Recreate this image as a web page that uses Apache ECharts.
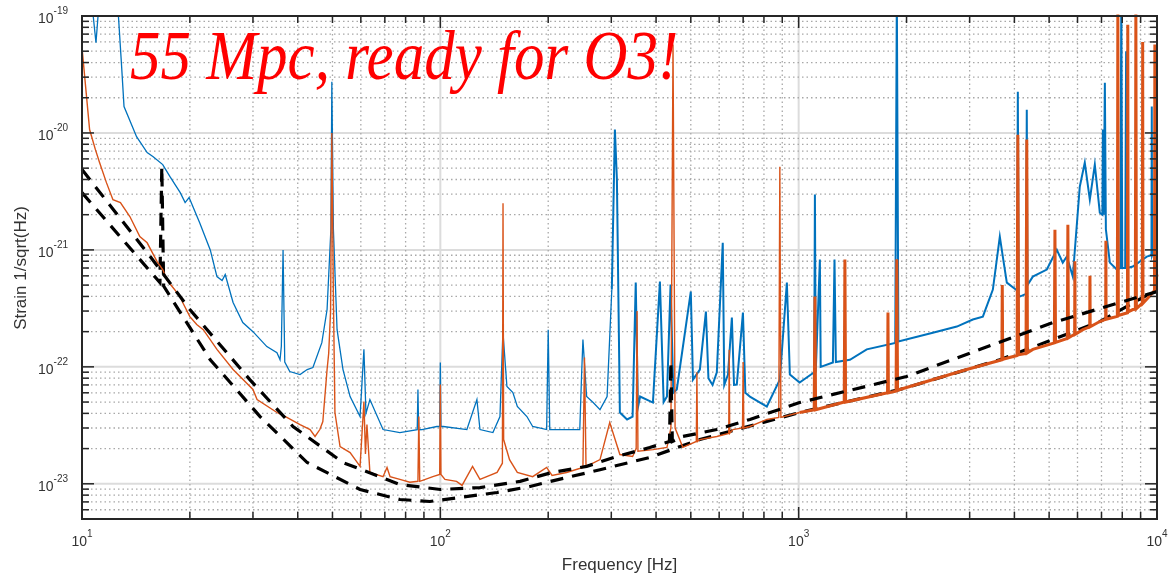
<!DOCTYPE html>
<html>
<head>
<meta charset="utf-8">
<script src="https://cdn.jsdelivr.net/npm/echarts@6/dist/echarts.min.js"></script>
<style>
  html, body { margin: 0; padding: 0; background: #ffffff; }
  #chart { width: 1173px; height: 575px; }
</style>
</head>
<body>
<div id="chart"></div>
<script>
// Axis ranges and decade ticks
const xDecades = [10, 100, 1000, 10000];
const yDecades = [1e-23, 1e-22, 1e-21, 1e-20, 1e-19];
const xMin = 10, xMax = 10000;
const yMin = 5e-24, yMax = 1e-19;

// Earlier strain spectrum (blue)
const blueFreq = [
  10, 10.6, 10.94, 11.2, 12.4, 12.9, 13.1, 14.2, 15.2, 15.8, 16.8, 17.6, 18.8, 19.4, 19.9,
  21.3, 22.8, 23.8, 24.6, 25.1, 26.4, 28.1, 30.0, 32.8, 35.0, 35.7, 36.0, 36.4, 36.8, 38.0,
  40.6, 42.5, 44.1, 46.7, 48.3, 49.5, 49.8, 50.3, 51.5, 53.5, 56.0, 59.7, 61.2, 62.0, 63.6,
  69.2, 77.1, 86.2, 86.6, 87.0, 88.9, 97.8, 99.6, 100, 100.4, 101.9, 118.6, 126.5, 129, 140.2,
  146.7, 149.5, 153.4, 159.4, 164, 174.4, 181, 198, 200, 202, 245, 248, 250, 256, 267,
  279, 292, 301, 307, 311, 317, 332, 344, 351, 356, 361, 392, 410, 420, 429,
  439, 447, 457, 500, 507, 530, 551, 560, 575, 591, 614, 620, 635, 651, 660,
  672, 699, 710, 731, 815, 886, 927, 945, 1006, 1105, 1110, 1116, 1146, 1152, 1246,
  1259, 1270, 1390, 1549, 1860, 1879, 1898, 1916, 2368, 2763, 3062, 3266, 3483, 3642, 3713,
  3810, 4070, 4089, 4110, 4142, 4310, 4331, 4350, 4503, 4926, 5253, 5458, 5602, 5821, 6088,
  6287, 6494, 6706, 6925, 7040, 7062, 7100, 7153, 7200, 7386, 7725, 7900, 7950, 8000, 8150,
  8200, 8250, 8561, 9365, 9650, 9670, 9690, 9745, 10000
];
const blueAsd = [
  3e-19, 1.5e-19, 5.91e-20, 1.5e-19, 2.5e-19, 3.69e-20, 1.68e-20, 9.3e-21, 6.79e-21, 6.27e-21, 5.36e-21, 4.23e-21, 3.09e-21, 2.54e-21, 2.8e-21,
  1.71e-21, 1.0e-21, 5.91e-22, 5.47e-22, 6.15e-22, 3.55e-22, 2.39e-22, 2.0e-22, 1.49e-22, 1.32e-22, 1.15e-22, 1.5e-22, 1.0e-21, 1.1e-22, 9.12e-23,
  8.6e-23, 9.48e-23, 9.86e-23, 1.61e-22, 3.09e-22, 1.5e-21, 2.74e-20, 1.5e-21, 2.08e-22, 9.48e-23, 5.57e-23, 3.76e-23, 1.41e-22, 4.0e-23, 5.25e-23,
  2.91e-23, 2.74e-23, 2.9e-23, 6.4e-23, 2.9e-23, 2.91e-23, 3.09e-23, 3.1e-23, 1.09e-22, 3.1e-23, 3.09e-23, 2.91e-23, 5.25e-23, 2.91e-23, 2.74e-23,
  3.76e-23, 2.0e-22, 6.79e-23, 6.03e-23, 4.58e-23, 3.76e-23, 3.09e-23, 2.91e-23, 2.08e-22, 2.91e-23, 2.91e-23, 8.93e-23, 1.71e-22, 5.57e-23, 4.95e-23,
  4.31e-23, 5.57e-23, 4.58e-22, 1.07e-20, 3.99e-21, 4.07e-23, 3.55e-23, 3.76e-23, 5.25e-22, 4.5e-23, 5.57e-23, 4.95e-23, 5.36e-22, 5.0e-23, 5.57e-23,
  5.05e-22, 6.0e-23, 6.4e-23, 4.4e-22, 7.78e-23, 9.48e-23, 2.97e-22, 8.0e-23, 7.0e-23, 9.0e-23, 1.15e-21, 7.0e-23, 8.6e-23, 2.64e-22, 7.0e-23,
  7.06e-23, 2.91e-22, 6.0e-23, 5.57e-23, 4.58e-23, 7.78e-23, 5.25e-22, 8.6e-23, 7.34e-23, 9.0e-23, 2.97e-21, 9.0e-23, 8.26e-22, 1.0e-22, 1.09e-22,
  8.26e-22, 1.1e-22, 1.15e-22, 1.41e-22, 1.6e-22, 1.5e-19, 1.65e-22, 1.71e-22, 1.96e-22, 2.21e-22, 2.54e-22, 2.69e-22, 4.58e-22, 1.3e-21, 8.77e-22,
  5.25e-22, 4.5e-22, 2.25e-20, 4.2e-22, 3.99e-22, 4.2e-22, 1.58e-20, 5.0e-22, 5.91e-22, 6.79e-22, 1.0e-21, 7.78e-22, 8.77e-22, 5.91e-22, 3.47e-21,
  5.57e-21, 2.69e-21, 5.36e-21, 2.08e-21, 2.0e-21, 1.07e-20, 2.0e-21, 2.69e-20, 1.5e-21, 7.78e-22, 6.79e-22, 7.0e-22, 1.5e-19, 7.0e-22, 7.0e-22,
  5.0e-20, 7.0e-22, 7.2e-22, 8.77e-22, 9.0e-22, 1.68e-20, 9.0e-22, 9.48e-22, 1.0e-21
];

// Current strain spectrum (orange)
const orangeFreq = [
  10, 10.5, 10.9, 11.2, 11.7, 12.2, 12.8, 13.6, 14.5, 15.2, 16.2, 16.8, 17.3, 18.8, 19.1,
  20.0, 20.9, 21.8, 23.8, 26.4, 30.0, 30.8, 35.0, 37.3, 40.6, 43.3, 44.7, 46.1, 47.0, 48.3,
  48.8, 49.4, 49.8, 50.3, 50.8, 52.5, 56.0, 59.7, 61.2, 61.8, 62.4, 63.6, 69.2, 71.0, 72.4,
  77.1, 82.2, 86.6, 87.1, 87.6, 90.8, 95.3, 99.6, 100, 100.4, 103, 111, 115, 123, 129,
  144, 149, 149.6, 150.2, 156, 164, 181, 198, 205, 225, 250, 252.5, 255, 279, 297,
  317, 344, 352, 354, 356, 392, 429, 440, 446, 452, 475, 518, 520, 522, 530,
  591, 638, 640, 642, 655, 697, 700, 703, 731, 815, 880, 886, 892, 903, 1006,
  1105, 1110, 1115, 1340, 1346, 1352, 1770, 1775, 1780, 1870, 1879, 1888, 1916, 2944, 3690,
  3700, 3710, 4070, 4089, 4110, 4310, 4331, 4350, 4503, 5170, 5190, 5210, 5620, 5640, 5660,
  5890, 5900, 5910, 6209, 6490, 6500, 6510, 6925, 7190, 7200, 7210, 7750, 7776, 7800, 8270,
  8288, 8310, 8561, 8700, 8730, 8760, 9100, 9120, 9140, 9745, 9840, 9863, 9890, 10000
];
const orangeAsd = [
  5.36e-20, 1.07e-20, 7.2e-21, 5.57e-21, 3.76e-21, 2.69e-21, 2.54e-21, 1.93e-21, 1.3e-21, 1.15e-21, 7.94e-22, 6.79e-22, 5.47e-22, 3.99e-22, 3.55e-22,
  2.69e-22, 2.3e-22, 2.08e-22, 1.41e-22, 9.48e-23, 6.4e-23, 5.25e-23, 4.07e-23, 3.69e-23, 3.21e-23, 2.91e-23, 2.54e-23, 2.91e-23, 3.41e-23, 9.48e-23,
  1.3e-22, 3.0e-22, 1.0e-20, 4.0e-22, 4.07e-23, 2.08e-23, 1.85e-23, 1.41e-23, 5.05e-23, 1.8e-23, 3.21e-23, 1.25e-23, 1.15e-23, 1.38e-23, 1.15e-23,
  1.09e-23, 1.03e-23, 1.05e-23, 3.76e-23, 1.05e-23, 1.09e-23, 1.15e-23, 1.2e-23, 7.06e-23, 1.2e-23, 1.09e-23, 1.05e-23, 9.7e-24, 1.41e-23, 1.09e-23,
  1.25e-23, 1.5e-23, 2.5e-21, 2.39e-23, 1.61e-23, 1.25e-23, 1.15e-23, 1.38e-23, 1.18e-23, 1.25e-23, 1.38e-23, 1.2e-22, 1.4e-23, 1.61e-23, 3.34e-23,
  1.78e-23, 1.71e-23, 2.0e-23, 3.0e-22, 1.9e-23, 1.96e-23, 2.05e-23, 3.0e-23, 5.7e-20, 3.0e-23, 2.05e-23, 2.3e-23, 9.0e-23, 2.3e-23, 2.39e-23,
  2.54e-23, 2.7e-23, 1.4e-22, 2.7e-23, 2.91e-23, 3.0e-23, 1.1e-22, 3.0e-23, 3.09e-23, 3.55e-23, 3.7e-23, 5.15e-21, 3.7e-23, 3.76e-23, 4.07e-23,
  4.3e-23, 4.0e-22, 4.3e-23, 5.0e-23, 8.26e-22, 5.0e-23, 6.0e-23, 2.91e-22, 6.0e-23, 6.2e-23, 8.3e-22, 6.3e-23, 6.4e-23, 9.48e-23, 1.15e-22,
  5.0e-22, 1.16e-22, 1.25e-22, 9.67e-21, 1.27e-22, 1.3e-22, 8.77e-21, 1.32e-22, 1.41e-22, 1.6e-22, 1.49e-21, 1.62e-22, 1.75e-22, 1.64e-21, 1.77e-22,
  1.9e-22, 8.0e-22, 1.9e-22, 2.08e-22, 2.2e-22, 6.0e-22, 2.2e-22, 2.44e-22, 2.55e-22, 1.2e-21, 2.55e-22, 2.7e-22, 1.3e-19, 2.75e-22, 2.9e-22,
  8.43e-20, 2.95e-22, 3.09e-22, 3.1e-22, 1.3e-19, 3.15e-22, 3.5e-22, 6.0e-20, 3.5e-22, 4.31e-22, 4.5e-22, 5.7e-20, 5.0e-22, 6.15e-22
];

// Design sensitivity curves (black dashed)
const designAFreq = [10, 15.5, 20, 29.4, 38.8, 53.5, 77.1, 100, 129, 167, 205, 256, 311, 384, 436, 440, 444, 475, 591, 731, 1006, 2000, 5122, 7875, 10000];
const designAAsd = [4.86e-21, 8.77e-22, 3.09e-22, 7.78e-23, 3.09e-23, 1.52e-23, 9.86e-24, 8.94e-24, 9.29e-24, 1.05e-23, 1.25e-23, 1.41e-23, 1.71e-23, 2.04e-23, 2.3e-23, 1.1e-22, 2.3e-23, 2.54e-23, 2.91e-23, 3.55e-23, 4.95e-23, 8.26e-23, 2.39e-22, 3.55e-22, 4.4e-22];
const designBFreq = [10, 16.5, 16.7, 16.9, 22.8, 31.4, 42.5, 59.7, 77.1, 93.5, 113, 144, 178, 198, 279, 384, 530, 1006, 1916, 3642, 6925, 10000];
const designBAsd = [3.09e-21, 5.25e-22, 5.15e-21, 4.9e-22, 1.15e-22, 3.76e-23, 1.52e-23, 8.94e-24, 7.34e-24, 7.06e-24, 7.63e-24, 8.43e-24, 9.48e-24, 1.03e-23, 1.32e-23, 1.68e-23, 2.39e-23, 4.07e-23, 6.4e-23, 1.15e-22, 2.44e-22, 4.58e-22];

const headline = '55 Mpc, ready for O3!';
const xName = 'Frequency [Hz]';
const yName = 'Strain 1/sqrt(Hz)';

// ---- helpers ----
const zip = (f, a) => f.map((v, i) => [v, a[i]]);
const isDecade = v => Math.abs(Math.log10(v) - Math.round(Math.log10(v))) < 1e-6;
const powLabel = v => isDecade(v) ? '{b|10}{e|' + Math.round(Math.log10(v)) + '}' : '';

const minorX = [];
xDecades.slice(0, -1).forEach(d => { for (let m = 2; m <= 9; m++) minorX.push(d * m); });
const minorY = [];
[1e-24].concat(yDecades.slice(0, -1)).forEach(d => {
  for (let m = 2; m <= 9; m++) { const v = d * m; if (v > yMin * 1.001 && v < yMax) minorY.push(v); }
});

const AXIS = '#262626';
const TEXT = '#333333';
const labelRich = {
  b: { fontSize: 14, fontFamily: 'Liberation Sans', color: TEXT, lineHeight: 20, verticalAlign: 'bottom' },
  e: { fontSize: 10, fontFamily: 'Liberation Sans', color: TEXT, lineHeight: 20, verticalAlign: 'top' }
};

// grid lines and inward ticks drawn through the axes
function vLines(name, values, style, tickLen, z) {
  return {
    type: 'custom', name, coordinateSystem: 'cartesian2d', silent: true, z, clip: false,
    encode: { x: 0, y: 1 },
    data: values.map(v => [v, yMin]),
    renderItem: (params, api) => {
      const cs = params.coordSys;
      const x = api.coord([api.value(0), yMin])[0];
      if (tickLen) {
        return { type: 'group', children: [
          { type: 'line', shape: { x1: x, y1: cs.y + cs.height, x2: x, y2: cs.y + cs.height - tickLen }, style: { stroke: AXIS, lineWidth: 1.5 } },
          { type: 'line', shape: { x1: x, y1: cs.y, x2: x, y2: cs.y + tickLen }, style: { stroke: AXIS, lineWidth: 1.5 } }
        ] };
      }
      return { type: 'line', shape: { x1: x, y1: cs.y, x2: x, y2: cs.y + cs.height }, style };
    }
  };
}
function hLines(name, values, style, tickLen, z) {
  return {
    type: 'custom', name, coordinateSystem: 'cartesian2d', silent: true, z, clip: false,
    encode: { x: 0, y: 1 },
    data: values.map(v => [xMin, v]),
    renderItem: (params, api) => {
      const cs = params.coordSys;
      const y = api.coord([xMin, api.value(1)])[1];
      if (tickLen) {
        return { type: 'group', children: [
          { type: 'line', shape: { x1: cs.x, y1: y, x2: cs.x + tickLen, y2: y }, style: { stroke: AXIS, lineWidth: 1.5 } },
          { type: 'line', shape: { x1: cs.x + cs.width, y1: y, x2: cs.x + cs.width - tickLen, y2: y }, style: { stroke: AXIS, lineWidth: 1.5 } }
        ] };
      }
      return { type: 'line', shape: { x1: cs.x, y1: y, x2: cs.x + cs.width, y2: y }, style };
    }
  };
}

const majorGrid = { stroke: '#dcdcdc', lineWidth: 2 };
const minorGrid = { stroke: '#a8a8a8', lineWidth: 1.3, lineDash: [1.5, 3] };

function trace(name, data, color, width, z, dash) {
  return {
    type: 'line', name, data, z, showSymbol: false, symbol: 'none', silent: true,
    clip: true, animation: false,
    lineStyle: { color, width, type: dash || 'solid', cap: 'butt', join: 'miter' }
  };
}

const blueData = zip(blueFreq, blueAsd);
const orangeData = zip(orangeFreq, orangeAsd);

const chart = echarts.init(document.getElementById('chart'), null, { renderer: 'canvas' });
chart.setOption({
  animation: false,
  backgroundColor: '#ffffff',
  grid: { left: 82, right: 16, top: 16, bottom: 56, containLabel: false, outerBoundsMode: 'none',
          show: true, backgroundColor: '#ffffff', borderWidth: 0 },
  xAxis: {
    type: 'log', logBase: 10, min: xMin, max: xMax,
    axisLine: { show: false }, axisTick: { show: false }, splitLine: { show: false },
    minorTick: { show: false }, minorSplitLine: { show: false },
    axisLabel: { formatter: powLabel, margin: 10, rich: labelRich, hideOverlap: false, showMinLabel: true, showMaxLabel: true },
    name: xName, nameLocation: 'middle', nameGap: 38,
    nameTextStyle: { fontSize: 17, fontFamily: 'Liberation Sans', color: TEXT }
  },
  yAxis: {
    type: 'log', logBase: 10, min: yMin, max: yMax,
    axisLine: { show: false }, axisTick: { show: false }, splitLine: { show: false },
    minorTick: { show: false }, minorSplitLine: { show: false },
    axisLabel: { formatter: powLabel, margin: 14, rich: labelRich, hideOverlap: false, showMinLabel: true, showMaxLabel: true }
  },
  graphic: [
    {
      type: 'text', x: 130, y: 61, scaleY: 1.15, z: 100, silent: true,
      style: { text: headline, font: 'italic 61px "Liberation Serif"', fill: '#ff0000', verticalAlign: 'middle', align: 'left' }
    },
    {
      type: 'text', x: 21, y: 268, rotation: Math.PI / 2, z: 100, silent: true,
      style: { text: yName, font: '17px "Liberation Sans"', fill: TEXT, verticalAlign: 'middle', align: 'center' }
    }
  ],
  series: [
    hLines('majorY', yDecades, majorGrid, 0, 1),
    vLines('majorX', xDecades, majorGrid, 0, 1),
    hLines('minorY', minorY, minorGrid, 0, 1),
    vLines('minorX', minorX, minorGrid, 0, 1),
    trace('earlier', blueData.filter(p => p[0] <= 301), '#0072BD', 1.3, 2),
    trace('earlier-high', blueData.filter(p => p[0] >= 301), '#0072BD', 2, 2),
    trace('design B', zip(designBFreq, designBAsd), '#000000', 3.2, 3, [13, 9]),
    trace('current', orangeData.filter(p => p[0] <= 1006), '#D95319', 1.4, 4),
    trace('current-high', orangeData.filter(p => p[0] >= 1006), '#D95319', 3, 4),
    trace('design A', zip(designAFreq, designAAsd), '#000000', 3.2, 5, [13, 9]),
    hLines('yTicksMajor', yDecades, null, 12, 20),
    hLines('yTicksMinor', minorY, null, 7, 20),
    vLines('xTicksMajor', xDecades, null, 12, 20),
    vLines('xTicksMinor', minorX, null, 7, 20),
    {
      type: 'custom', name: 'frame', coordinateSystem: 'cartesian2d', silent: true, z: 21, clip: false,
      encode: { x: 0, y: 1 }, data: [[xMin, yMin]],
      renderItem: (params) => {
        const cs = params.coordSys;
        return { type: 'rect', shape: { x: cs.x, y: cs.y, width: cs.width, height: cs.height },
                 style: { fill: 'none', stroke: AXIS, lineWidth: 2 } };
      }
    }
  ]
});
</script>
</body>
</html>
